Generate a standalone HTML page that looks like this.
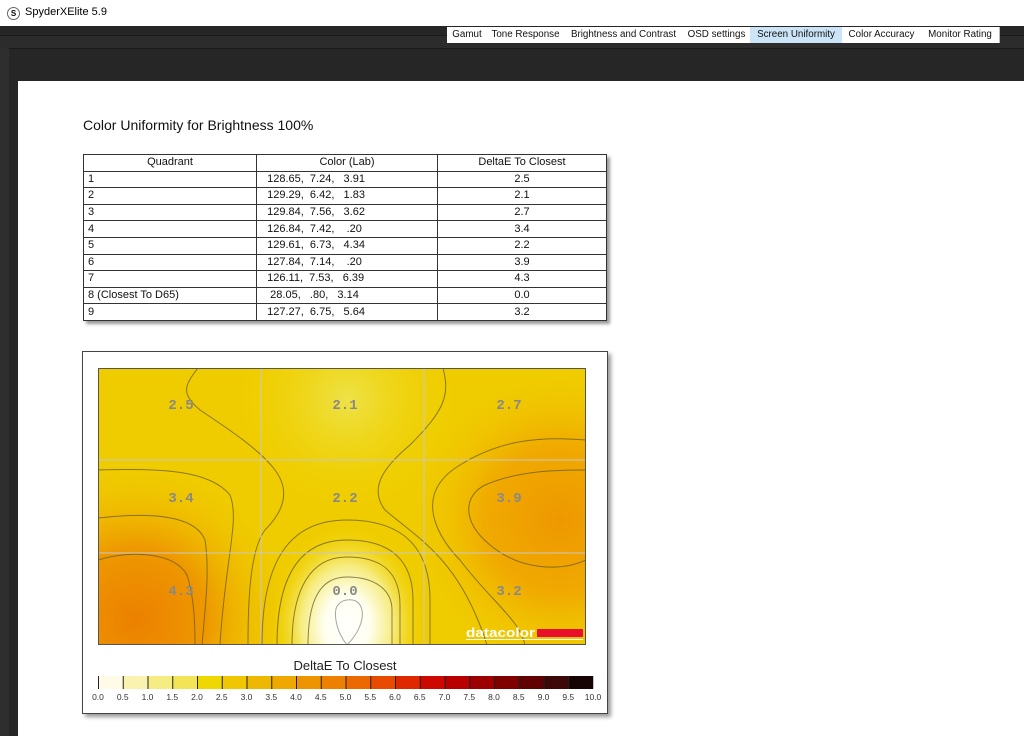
<!DOCTYPE html>
<html><head><meta charset="utf-8"><style>
body{margin:0;width:1024px;height:736px;overflow:hidden;background:#fff;font-family:"Liberation Sans",sans-serif;position:relative}
.a{position:absolute}
table{border-collapse:collapse;font-size:11px;color:#111}
td{border:1px solid #333;height:15.6px;padding:0 4px;line-height:15px}
.tab{position:absolute;top:27px;height:16px;font-size:9.8px;line-height:16px;text-align:center;background:#fff;border-right:1px solid #bbb;color:#111;white-space:nowrap;overflow:hidden}
</style></head><body>
<div class="a" style="left:0;top:0;width:1024px;height:26px;background:#fff"></div>
<div class="a" style="left:7px;top:7px;width:11px;height:11px;border:1px solid #666;border-radius:50%;font-size:8px;line-height:11px;text-align:center;font-weight:bold">S</div>
<div class="a" style="left:25px;top:6px;font-size:11px">SpyderXElite 5.9</div>
<div class="a" style="left:0;top:26px;width:1024px;height:710px;background:#262626"></div>
<div class="a" style="left:0;top:35px;width:1024px;height:12px;background:#2c2c2c;border-top:1px solid #1a1a1a;border-bottom:1px solid #1a1a1a"></div>
<div class="a" style="left:0;top:47px;width:9px;height:689px;background:#2e2e2e"></div>
<div class="tab" style="left:447px;width:40px">Gamut</div>
<div class="tab" style="left:487px;width:77px">Tone Response</div>
<div class="tab" style="left:564px;width:119px">Brightness and Contrast</div>
<div class="tab" style="left:683px;width:67px">OSD settings</div>
<div class="tab" style="left:750px;width:92px;background:#cce4f7">Screen Uniformity</div>
<div class="tab" style="left:842px;width:79px">Color Accuracy</div>
<div class="tab" style="left:921px;width:78px">Monitor Rating</div>
<div class="a" style="left:18px;top:81px;width:1006px;height:655px;background:#fff"></div>
<div class="a" style="left:83px;top:117px;font-size:14px;color:#111">Color Uniformity for Brightness 100%</div>
<table class="a" style="left:83px;top:154px;width:524px;box-shadow:3px 3px 3px #999">
<tr><td style="width:164px;text-align:center">Quadrant</td><td style="width:172px;text-align:center">Color (Lab)</td><td style="text-align:center">DeltaE To Closest</td></tr>
<tr><td>1</td><td>&nbsp;&nbsp;128.65,&nbsp;&nbsp;7.24,&nbsp;&nbsp;&nbsp;3.91</td><td style="text-align:center">2.5</td></tr>
<tr><td>2</td><td>&nbsp;&nbsp;129.29,&nbsp;&nbsp;6.42,&nbsp;&nbsp;&nbsp;1.83</td><td style="text-align:center">2.1</td></tr>
<tr><td>3</td><td>&nbsp;&nbsp;129.84,&nbsp;&nbsp;7.56,&nbsp;&nbsp;&nbsp;3.62</td><td style="text-align:center">2.7</td></tr>
<tr><td>4</td><td>&nbsp;&nbsp;126.84,&nbsp;&nbsp;7.42,&nbsp;&nbsp;&nbsp;&nbsp;.20</td><td style="text-align:center">3.4</td></tr>
<tr><td>5</td><td>&nbsp;&nbsp;129.61,&nbsp;&nbsp;6.73,&nbsp;&nbsp;&nbsp;4.34</td><td style="text-align:center">2.2</td></tr>
<tr><td>6</td><td>&nbsp;&nbsp;127.84,&nbsp;&nbsp;7.14,&nbsp;&nbsp;&nbsp;&nbsp;.20</td><td style="text-align:center">3.9</td></tr>
<tr><td>7</td><td>&nbsp;&nbsp;126.11,&nbsp;&nbsp;7.53,&nbsp;&nbsp;&nbsp;6.39</td><td style="text-align:center">4.3</td></tr>
<tr><td>8 (Closest To D65)</td><td>&nbsp;&nbsp;&nbsp;28.05,&nbsp;&nbsp;&nbsp;.80,&nbsp;&nbsp;&nbsp;3.14</td><td style="text-align:center">0.0</td></tr>
<tr><td>9</td><td>&nbsp;&nbsp;127.27,&nbsp;&nbsp;6.75,&nbsp;&nbsp;&nbsp;5.64</td><td style="text-align:center">3.2</td></tr>
</table>
<div class="a" style="left:82px;top:351px;width:524px;height:361px;border:1px solid #444;box-shadow:3px 3px 4px #999;background:#fff"></div>
<svg class="a" style="left:0;top:0" width="1024" height="736">
<defs>
<radialGradient id="o1" cx="135" cy="620" r="160" gradientUnits="userSpaceOnUse"><stop offset="0" stop-color="#ec8000"/><stop offset=".45" stop-color="#ee9800"/><stop offset="1" stop-color="#f0c800" stop-opacity="0"/></radialGradient>
<radialGradient id="o2" cx="560" cy="520" r="150" gradientUnits="userSpaceOnUse"><stop offset="0" stop-color="#ee9800"/><stop offset=".5" stop-color="#f0aa00"/><stop offset="1" stop-color="#f0c800" stop-opacity="0"/></radialGradient>
<radialGradient id="w" cx="347" cy="625" r="90" gradientUnits="userSpaceOnUse" gradientTransform="translate(347 625) scale(0.85 1.1) translate(-347 -625)"><stop offset="0" stop-color="#fff"/><stop offset=".3" stop-color="#fffff0"/><stop offset=".6" stop-color="#f6ec80"/><stop offset="1" stop-color="#f0d400" stop-opacity="0"/></radialGradient>
<radialGradient id="t" cx="347" cy="400" r="110" gradientUnits="userSpaceOnUse"><stop offset="0" stop-color="#eee24a"/><stop offset="1" stop-color="#efd600" stop-opacity="0"/></radialGradient>
<clipPath id="c"><rect x="98" y="368" width="488" height="277"/></clipPath>
</defs>
<g clip-path="url(#c)">
<rect x="98" y="368" width="488" height="277" fill="#efcc00"/>
<rect x="98" y="368" width="488" height="277" fill="url(#t)"/>
<rect x="98" y="368" width="488" height="277" fill="url(#o1)"/>
<rect x="98" y="368" width="488" height="277" fill="url(#o2)"/>
<rect x="98" y="368" width="488" height="277" fill="url(#w)"/>
<g stroke="#665a20" stroke-opacity=".75" stroke-width="1" fill="none">
<path d="M198 368 C185 385 180 393 200 410 C230 430 260 450 275 470 C290 490 285 510 265 530 C250 550 248 600 248 645"/>
<path d="M443 368 C450 395 445 410 410 445 C380 470 370 490 385 510 C420 540 460 560 487 645"/>
<path d="M98 470 C160 468 210 470 230 495 C240 520 225 560 220 645"/>
<path d="M98 518 C150 512 195 515 205 540 C210 570 205 610 202 645"/>
<path d="M98 560 C130 550 175 552 187 575 C195 600 195 630 195 645"/>
<path d="M586 440 C540 436 500 440 460 465 C410 495 440 540 460 560 C490 600 520 620 525 645"/>
<path d="M586 560 C560 572 520 570 490 545 C460 520 465 495 485 485 C520 470 560 470 586 470"/>
<path d="M262 645 C262 560 290 520 347 520 C400 520 430 545 430 600 L430 645"/>
<path d="M277 645 C277 575 300 540 347 540 C390 540 413 560 413 600 L413 645"/>
<path d="M292 645 C292 590 310 557 347 557 C385 557 400 575 400 605 L400 645"/>
<path d="M308 645 C308 600 320 577 347 577 C375 577 392 590 392 610 L392 645"/>
<path d="M347 645 C335 630 333 610 338 605 C343 598 356 598 360 605 C366 615 360 632 347 645Z" stroke="#888"/>
</g>
<g stroke="#c8c8c8" stroke-width="1"><line x1="261" y1="368" x2="261" y2="645"/><line x1="424" y1="368" x2="424" y2="645"/><line x1="98" y1="460" x2="586" y2="460"/><line x1="98" y1="553" x2="586" y2="553"/></g>
<g font-family="Liberation Mono,monospace" font-weight="bold" font-size="14" fill="#888" text-anchor="middle">
<text x="181" y="409">2.5</text><text x="345" y="409">2.1</text><text x="509" y="409">2.7</text>
<text x="181" y="502">3.4</text><text x="345" y="502">2.2</text><text x="509" y="502">3.9</text>
<text x="181" y="595">4.3</text><text x="345" y="595">0.0</text><text x="509" y="595">3.2</text>
</g>
<text x="466" y="637" font-size="12.5" font-weight="bold" fill="#fff" textLength="69" lengthAdjust="spacingAndGlyphs">datacolor</text>
<rect x="537" y="629" width="46" height="8" fill="#e8102a"/>
<line x1="466" y1="639.5" x2="583" y2="639.5" stroke="#fff"/>
</g>
<rect x="98.5" y="368.5" width="487" height="276" fill="none" stroke="#555"/>
<text x="345" y="670" font-size="13" fill="#222" text-anchor="middle">DeltaE To Closest</text>
<g id="seg"></g>
<g stroke="#222" stroke-width="1" id="ticks"></g>
<g font-size="8.5" fill="#333" text-anchor="middle" id="lbl"></g>
</svg>
<script>
var ns='http://www.w3.org/2000/svg',s=document.getElementById('seg'),t=document.getElementById('ticks'),l=document.getElementById('lbl');
var cols=['#fffbe6','#faf3b0','#f6ec84','#f2e456','#efd800','#efc600','#efb800','#eea800','#ee9400','#ee8000','#ec6800','#e84a00','#e02800','#cc0800','#b80000','#9c0000','#800000','#600000','#3c0808','#160404'];
for(var i=0;i<=20;i++){var x=98+i*24.75;
if(i<20){var r=document.createElementNS(ns,'rect');r.setAttribute('x',x);r.setAttribute('y',676);r.setAttribute('width',25);r.setAttribute('height',13);r.setAttribute('fill',cols[i]);s.appendChild(r);
var ln=document.createElementNS(ns,'line');ln.setAttribute('x1',x+.5);ln.setAttribute('x2',x+.5);ln.setAttribute('y1',676);ln.setAttribute('y2',689);t.appendChild(ln);}
var tx=document.createElementNS(ns,'text');tx.setAttribute('x',x);tx.setAttribute('y',700);tx.textContent=(i*0.5).toFixed(1);l.appendChild(tx);}
</script>
</body></html>
